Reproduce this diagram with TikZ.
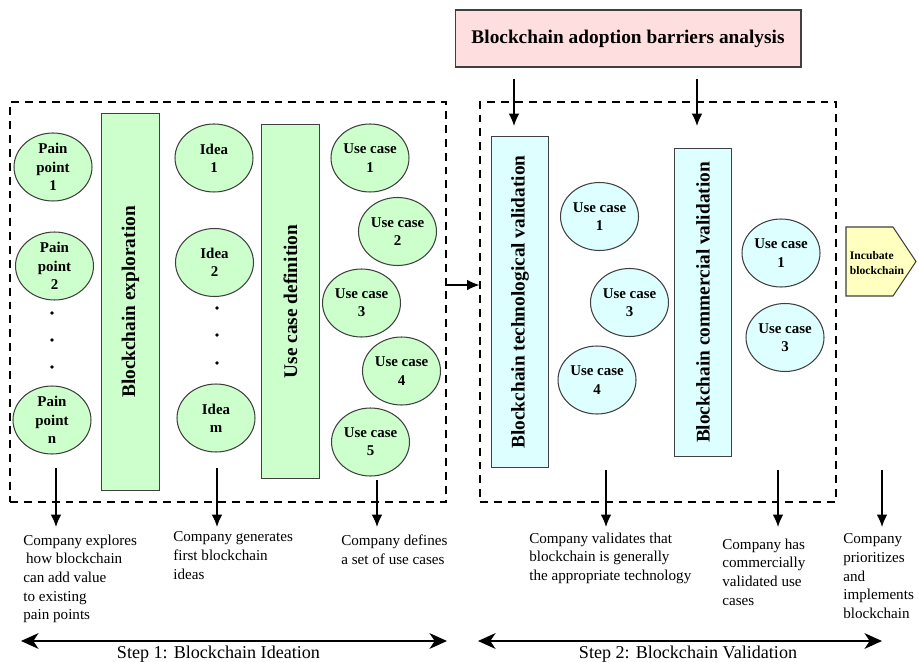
\documentclass[tikz,border=0pt]{standalone}
\usepackage{fontspec}
\setmainfont{Liberation Serif}
\usetikzlibrary{arrows.meta}
\usetikzlibrary{shapes.geometric}
\usetikzlibrary{calc}

\definecolor{greenfill}{HTML}{CCFFCC}
\definecolor{cyanfill}{HTML}{DDFFFF}
\definecolor{pinkfill}{HTML}{FFDEE0}
\definecolor{yellowfill}{HTML}{FFFFBF}
\definecolor{edgegray}{HTML}{404040}

\begin{document}
\begin{tikzpicture}[x=0.02cm,y=-0.02cm,>={Latex[length=7pt,width=6pt]},
  uc/.style={draw=edgegray,line width=0.6pt,ellipse,minimum width=1.56cm,minimum height=1.36cm,
    inner sep=0pt,align=center,font=\fontsize{8.5}{10.4}\selectfont\bfseries},
  bar/.style={draw=edgegray,line width=0.6pt,rotate=90,inner sep=0pt,minimum height=1.15cm,
    font=\fontsize{11}{13}\selectfont\bfseries},
  stage/.style={draw,dash pattern=on 4.5pt off 3.4pt,line width=0.7pt,inner sep=0pt},
  note/.style={anchor=north west,align=left,inner sep=0pt,font=\fontsize{8.6}{10.6}\selectfont},
  steplabel/.style={anchor=base,inner sep=0pt,font=\fontsize{10.3}{12}\selectfont},
  span/.style={{Stealth[length=10pt,width=9pt,inset=3pt]}-{Stealth[length=10pt,width=9pt,inset=3pt]},line width=0.7pt}]
\useasboundingbox (0,0) rectangle (919,662);

\node [stage,minimum width=8.72cm,minimum height=8cm] (ideation) at (228,302) {};
\node [stage,minimum width=7.12cm,minimum height=8cm] (validation) at (658,302) {};
\node [draw=edgegray,line width=0.6pt,fill=pinkfill,minimum width=6.92cm,minimum height=1.14cm,
  font=\fontsize{11}{13}\selectfont\bfseries] (barriers) at (628,38.5) {Blockchain adoption barriers analysis};

\node [bar,fill=greenfill,minimum width=7.56cm] (explore) at (130.5,302) {Blockchain exploration};
\node [bar,fill=greenfill,minimum width=7.10cm] (define) at (290.5,301.5) {Use case definition};
\node [bar,fill=cyanfill,minimum width=6.64cm] (techval) at (520,302) {Blockchain technological validation};
\node [bar,fill=cyanfill,minimum width=6.18cm] (commval) at (703,302.5) {Blockchain commercial validation};

\node [uc,fill=greenfill] (pain1) at (53,167) {Pain\\point\\1};
\node [uc,fill=greenfill] (pain2) at (54.5,266) {Pain\\point\\2};
\node [uc,fill=greenfill] (painn) at (52,420) {Pain\\point\\n};
\node [uc,fill=greenfill] (idea1) at (214,158) {Idea\\1};
\node [uc,fill=greenfill] (idea2) at (214.5,262.5) {Idea\\2};
\node [uc,fill=greenfill] (ideam) at (216,418) {Idea\\m};
\node [uc,fill=greenfill] (case1) at (370,158) {Use case\\1};
\node [uc,fill=greenfill] (case2) at (397.5,231.5) {Use case\\2};
\node [uc,fill=greenfill] (case3) at (361.5,303) {Use case\\3};
\node [uc,fill=greenfill] (case4) at (401.5,371) {Use case\\4};
\node [uc,fill=greenfill] (case5) at (370.5,442) {Use case\\5};
\foreach \y in {313,340,367} \fill (52,\y) circle (1pt);
\foreach \y in {308,335,363} \fill (217,\y) circle (1pt);

\node [uc,fill=cyanfill] (tcase1) at (599.5,216.5) {Use case\\1};
\node [uc,fill=cyanfill] (tcase3) at (629.5,302.5) {Use case\\3};
\node [uc,fill=cyanfill] (tcase4) at (597,380) {Use case\\4};
\node [uc,fill=cyanfill] (ccase1) at (781,253) {Use case\\1};
\node [uc,fill=cyanfill] (ccase3) at (785,337.5) {Use case\\3};

\filldraw [draw=edgegray,line width=0.6pt,fill=yellowfill] (846,227) -- (893,227) -- (916,261.5) -- (893,296) -- (846,296) -- cycle;
\node [align=left,inner sep=0pt,font=\fontsize{6.6}{8.5}\selectfont\bfseries] (incubate) at (877,263) {Incubate\\blockchain};

\coordinate (bar1) at (514,79);
\coordinate (bar1tip) at (514,126);
\coordinate (bar2) at (697,79);
\coordinate (bar2tip) at (697,126);
\draw [->,line width=0.7pt] (bar1) -- (bar1tip);
\draw [->,line width=0.7pt] (bar2) -- (bar2tip);
\draw [->,line width=0.7pt] ([yshift=0.34cm]ideation.east) -- ([yshift=0.34cm]validation.west);

\foreach \n/\x/\y in {a/56/468,b/217/468,c/377/480,d/606/470,e/778/470,f/882/470} {
  \coordinate (out\n) at (\x,\y);
  \coordinate (outtip\n) at (\x,527);
  \draw [->,line width=0.7pt] (out\n) -- (outtip\n);
}

\node [note] (noteexplore) at (23,534.5) {Company explores\\\hspace{1.6pt}how blockchain\\can add value\\to existing\\pain points};
\node [note] (noteideas) at (173,531.5) {Company generates\\first blockchain\\ideas};
\node [note] (notecases) at (341,534.5) {Company defines\\a set of use cases};
\node [note] (notetech) at (529,532.5) {Company validates that\\blockchain is generally\\the appropriate technology};
\node [note] (notecomm) at (722,538.5) {Company has\\commercially\\validated use\\cases};
\node [note] (noteimpl) at (843,533.5) {Company\\prioritizes\\and\\implements\\blockchain};

\coordinate (step1l) at (21,641);
\coordinate (step1r) at (447,641);
\coordinate (step2l) at (478,641);
\coordinate (step2r) at (882,641);
\draw [span] (step1l) -- (step1r);
\draw [span] (step2l) -- (step2r);
\node [steplabel] (step1) at (218.5,658) {Step 1: Blockchain Ideation};
\node [steplabel] (step2) at (688,658) {Step 2: Blockchain Validation};
\end{tikzpicture}
\end{document}
